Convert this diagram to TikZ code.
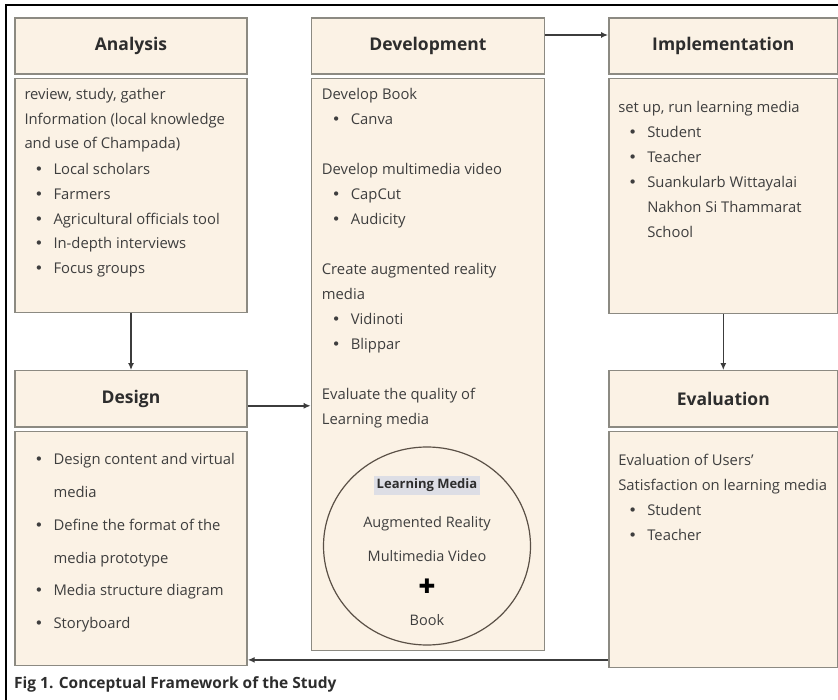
\documentclass[tikz,border=0pt]{standalone}
\usepackage{fontspec}
\setmainfont{Open Sans}
\newfontfamily\symfont{DejaVu Sans}
\usetikzlibrary{shapes.geometric, arrows.meta, positioning}

\definecolor{paper}{RGB}{251,242,229}
\definecolor{edge}{RGB}{140,138,130}
\definecolor{ink}{RGB}{45,45,45}
\definecolor{gtext}{RGB}{62,62,62}
\definecolor{arrgray}{RGB}{60,60,60}
\definecolor{hlgray}{RGB}{221,222,229}
\definecolor{ring}{RGB}{90,80,70}

\newcommand{\bodyfont}{\fontsize{14.8}{25}\selectfont}
\newcommand{\itm}[1]{\makebox[29pt][l]{\hspace{10pt}{\symfont\textbullet}}#1}
\newcommand{\cnt}{\hspace*{29pt}}

\begin{document}
\begin{tikzpicture}[
    x=1pt, y=-1pt,
    ttl/.style={rectangle, draw=edge, fill=paper, line width=1.4pt, minimum width=232pt,
                minimum height=56pt, text=ink, font=\fontsize{17.5}{20}\selectfont\bfseries},
    bdy/.style={rectangle, draw=edge, fill=paper, line width=1.4pt, minimum width=232pt},
    txt/.style={anchor=north west, inner sep=0pt, align=left, text=gtext, font=\bodyfont},
    lmtext/.style={inner sep=0pt, text=gtext, font=\fontsize{14.5}{17}\selectfont},
    arr/.style={-{Latex[length=7pt,width=6pt]}, line width=1.6pt, draw=arrgray},
]
    \useasboundingbox (0,0) rectangle (838,700);
    \draw[line width=1.5pt] (6,710) -- (6,5) -- (850,5);

    \node[ttl] (anaT) at (131,46) {Analysis};
    \node[bdy, minimum height=234pt, below=3pt of anaT] (anaB) {};
    \node[ttl, minimum width=233pt, right=63pt of anaT] (devT) {Development};
    \node[bdy, minimum width=233pt, minimum height=572pt, below=3pt of devT] (devB) {};
    \node[ttl, minimum width=229pt, right=63pt of devT] (impT) {Implementation};
    \node[bdy, minimum width=229pt, minimum height=235pt, below=3pt of impT] (impB) {};
    \node[ttl, below=57pt of anaB] (desT) {Design};
    \node[bdy, minimum height=234pt, below=3pt of desT] (desB) {};
    \node[ttl, minimum width=229pt, below=56pt of impB] (evaT) {Evaluation};
    \node[bdy, minimum width=229pt, minimum height=236pt, below=3pt of evaT] (evaB) {};

    \node[txt, font=\fontsize{14.8}{24.6}\selectfont] (anaX) at ([xshift=10pt, yshift=-10.5pt]anaB.north west)
        {review, study, gather\\ Information (local knowledge\\ and use of Champada)\\[1.5pt]
         \itm{Local scholars}\\ \itm{Farmers}\\ \itm{Agricultural officials tool}\\
         \itm{In-depth interviews}\\ \itm{Focus groups}};
    \node[txt] (devX) at ([xshift=11pt, yshift=-10pt]devB.north west)
        {Develop Book\\ \itm{Canva}\\[25pt]
         Develop multimedia video\\ \itm{CapCut}\\ \itm{Audicity}\\[25pt]
         Create augmented reality\\ media\\ \itm{Vidinoti}\\ \itm{Blippar}\\[25pt]
         Evaluate the quality of\\ Learning media};
    \node[txt] (impX) at ([xshift=10pt, yshift=-23pt]impB.north west)
        {set up, run learning media\\ \itm{Student}\\ \itm{Teacher}\\
         \itm{Suankularb Wittayalai}\\ \cnt Nakhon Si Thammarat\\ \cnt School};
    \node[txt, font=\fontsize{14.8}{32.7}\selectfont] (desX) at ([xshift=10pt, yshift=-23pt]desB.north west)
        {\itm{Design content and virtual}\\ \cnt media\\ \itm{Define the format of the}\\
         \cnt media prototype\\ \itm{Media structure diagram}\\ \itm{Storyboard}};
    \node[txt] (evaX) at ([xshift=10pt, yshift=-23.5pt]evaB.north west)
        {Evaluation of Users'\\ Satisfaction on learning media\\ \itm{Student}\\ \itm{Teacher}};

    \node[ellipse, draw=ring, line width=1.2pt, minimum width=207pt, minimum height=198pt] (lm) at (427,546) {};
    \node[fill=hlgray, inner sep=3pt, text=ink, font=\fontsize{13}{15}\selectfont\bfseries] (lmT) at (427,485) {Learning Media};
    \node[lmtext] (lmAR) at (427,524) {Augmented Reality};
    \node[lmtext] (lmMV) at (427,556) {Multimedia Video};
    \node[inner sep=0pt, font=\symfont\fontsize{20}{22}\selectfont] (lmPlus) at (427,586) {✚};
    \node[lmtext] (lmBk) at (427,620) {Book};

    \node[anchor=west, inner sep=0pt, text=ink, font=\fontsize{15.5}{18}\selectfont\bfseries] (cap) at (14,684)
        {Fig 1. Conceptual Framework of the Study};

    \draw[arr] (anaB) -- (desT);
    \draw[arr] (impB) -- (evaT);
    \draw[arr] ([yshift=-7pt]desT.east) -- ([yshift=-7pt]desT.east -| devB.west);
    \draw[arr] ([yshift=11pt]devT.east) -- ([yshift=11pt]devT.east -| impT.west);
    \draw[arr] ([yshift=8pt]evaB.south west) -- ([yshift=8pt]evaB.south west -| desB.east);
\end{tikzpicture}
\end{document}
